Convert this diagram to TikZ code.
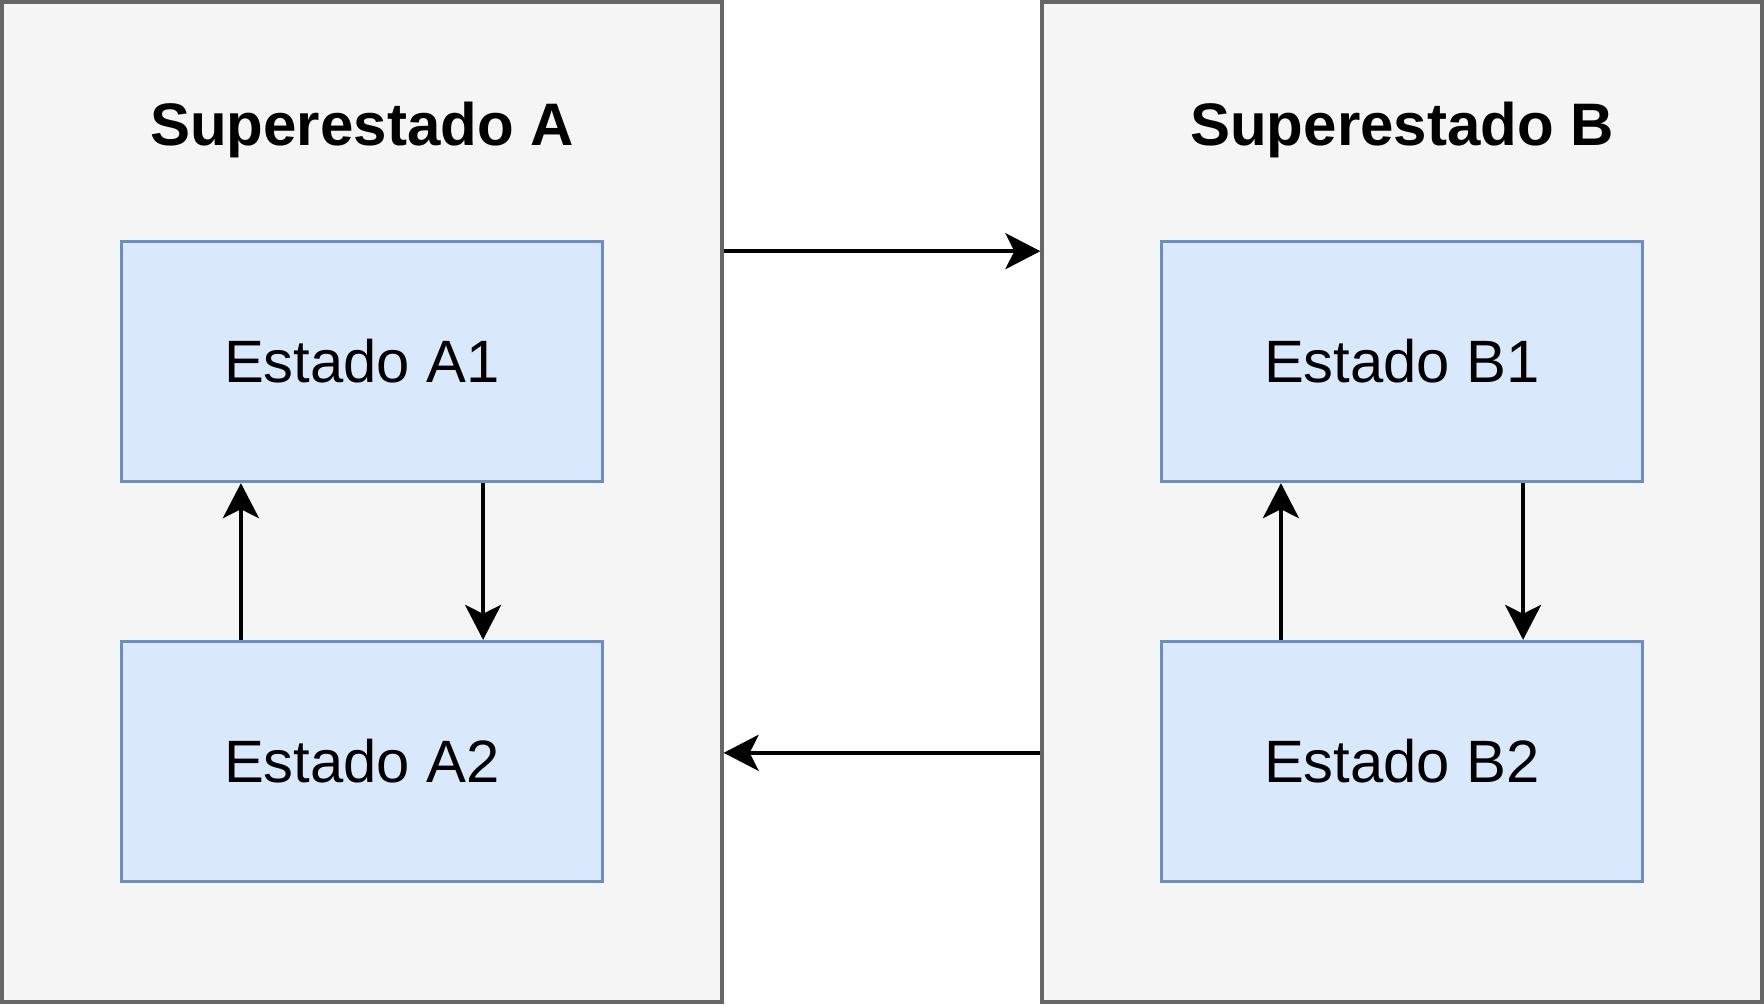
\documentclass[tikz,border=0pt]{standalone}
\usepackage{fontspec}
\setmainfont{Liberation Sans}
\usepackage{xcolor}
\usetikzlibrary{
    arrows.meta,
    calc,
    positioning
}
\definecolor{superfill}{HTML}{F5F5F5}
\definecolor{superline}{HTML}{666666}
\definecolor{statefill}{HTML}{DAE8FC}
\definecolor{stateline}{HTML}{6C8EBF}

\begin{document}
\begin{tikzpicture}[x=1pt, y=-1pt,
    superbox/.style={draw=superline, fill=superfill, line width=3.3pt,
        minimum width=720pt, minimum height=1000pt, inner sep=0pt},
    statebox/.style={draw=stateline, fill=statefill, line width=3.3pt,
        minimum width=481pt, minimum height=240pt, inner sep=0pt,
        font=\fontsize{59.8}{70}\selectfont},
    supertitle/.style={font=\fontsize{60}{70}\selectfont\bfseries},
    arr/.style={line width=4pt,
        -{Stealth[length=35pt, width=36pt, inset=9pt]}}]
                        \useasboundingbox (0, 0) rectangle (1764, 1004);
                        % superestados
                        \node[superbox] (SA) at (362, 502) {};
                        \node[superbox] (SB) at (1402, 502) {};
                        \node[supertitle] (tA) at (362, 130) {Superestado A};
                        \node[supertitle] (tB) at (1402, 130) {Superestado B};
                        % estados
                        \node[statebox] (A1) at (362, 361.5) {Estado A1};
                        \node[statebox] (A2) at (362, 761.5) {Estado A2};
                        \node[statebox] (B1) at (1402, 361.5) {Estado B1};
                        \node[statebox] (B2) at (1402, 761.5) {Estado B2};
                        % transiciones internas
                        \draw[arr] ($(A2.north west)!0.25!(A2.north east)$)
                            -- ($(A1.south west)!0.25!(A1.south east)$);
                        \draw[arr] ($(A1.south west)!0.75!(A1.south east)$)
                            -- ($(A2.north west)!0.75!(A2.north east)$);
                        \draw[arr] ($(B2.north west)!0.25!(B2.north east)$)
                            -- ($(B1.south west)!0.25!(B1.south east)$);
                        \draw[arr] ($(B1.south west)!0.75!(B1.south east)$)
                            -- ($(B2.north west)!0.75!(B2.north east)$);
                        % transiciones entre superestados
                        \draw[arr] ($(SA.north east)!0.25!(SA.south east)$)
                            -- ($(SB.north west)!0.25!(SB.south west)$);
                        \draw[arr] ($(SB.north west)!0.75!(SB.south west)$)
                            -- ($(SA.north east)!0.75!(SA.south east)$);
                    \end{tikzpicture}
\end{document}
